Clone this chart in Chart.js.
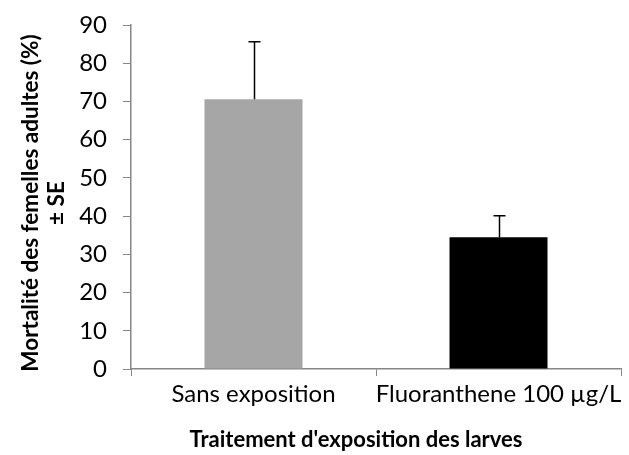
<!DOCTYPE html>
<html><head><meta charset="utf-8">
<script src="https://cdn.jsdelivr.net/npm/chart.js@4"></script>
<style>html,body{margin:0;padding:0;background:#fff;}#wrap{width:629px;height:455px;}</style>
</head><body><div id="wrap"><canvas id="c"></canvas></div>
<script>
const categories = ["Sans exposition", "Fluoranthene 100 µg/L"];
const mortality = [70.6, 34.5];
const se = [15.0, 5.6];
const barColors = ["#A6A6A6", "#000000"];
const yTicks = [0,10,20,30,40,50,60,70,80,90];
const xTitle = "Traitement d'exposition des larves";
const yTitle = ["Mortalité des femelles adultes (%)", "± SE"];

const FONT = "Lato, 'Open Sans', sans-serif";

const errorBars = {
  id: 'errorBars',
  afterDatasetsDraw(chart) {
    const ctx = chart.ctx, y = chart.scales.y;
    const meta = chart.getDatasetMeta(0);
    ctx.save();
    ctx.strokeStyle = '#000'; ctx.lineWidth = 1.5;
    meta.data.forEach((bar, i) => {
      const x = Math.round(bar.x) + 0.5;
      const yTop = y.getPixelForValue(mortality[i] + se[i]);
      const yBase = y.getPixelForValue(mortality[i]);
      ctx.beginPath();
      ctx.moveTo(x, yBase); ctx.lineTo(x, yTop);
      ctx.moveTo(x - 6, yTop); ctx.lineTo(x + 6, yTop);
      ctx.stroke();
    });
    ctx.restore();
  }
};

const axisTitles = {
  id: 'axisTitles',
  afterDraw(chart) {
    const ctx = chart.ctx, a = chart.chartArea;
    ctx.save();
    ctx.fillStyle = '#000';
    ctx.textAlign = 'center';
    ctx.textBaseline = 'middle';
    ctx.font = "bold 22px " + FONT;
    ctx.fillText(xTitle, (a.left + a.right) / 2 - 20, 440);
    ctx.font = "bold 22.5px " + FONT;
    const cy = (a.top + a.bottom) / 2 + 6;
    [31, 57].forEach((cx, i) => {
      ctx.save();
      ctx.translate(cx, cy);
      ctx.rotate(-Math.PI / 2);
      ctx.fillText(yTitle[i], 0, 0);
      ctx.restore();
    });
    ctx.restore();
  }
};

new Chart(document.getElementById('c'), {
  type: 'bar',
  data: { labels: categories, datasets: [{ data: mortality, backgroundColor: barColors, barPercentage: 0.4, categoryPercentage: 1.0 }] },
  options: {
    responsive: true, maintainAspectRatio: false, animation: false,
    layout: { padding: { top: 25, right: 8, left: 0, bottom: 0 } },
    plugins: { legend: { display: false }, tooltip: { enabled: false } },
    scales: {
      x: {
        grid: { display: true, drawOnChartArea: false, offset: true, color: '#868686', tickLength: 7, tickColor: '#868686' },
        border: { color: '#868686', width: 1.5 },
        ticks: { color: '#000', font: { family: FONT, size: 24 }, padding: 4, maxRotation: 0, autoSkip: false },
        afterFit(s) { s.height = 86; s.paddingLeft = 0; s.paddingRight = 0; }
      },
      y: {
        min: 0, max: 90,
        afterBuildTicks(s) { s.ticks = yTicks.map(v => ({ value: v })); },
        grid: { display: true, drawOnChartArea: false, color: '#868686', tickLength: 8, tickColor: '#868686' },
        border: { color: '#868686', width: 1.5 },
        ticks: { color: '#000', font: { family: FONT, size: 24 }, padding: 16 },
        afterFit(s) { s.width = 131; s.paddingTop = 0; s.paddingBottom = 0; }
      }
    }
  },
  plugins: [errorBars, axisTitles]
});
</script></body></html>
